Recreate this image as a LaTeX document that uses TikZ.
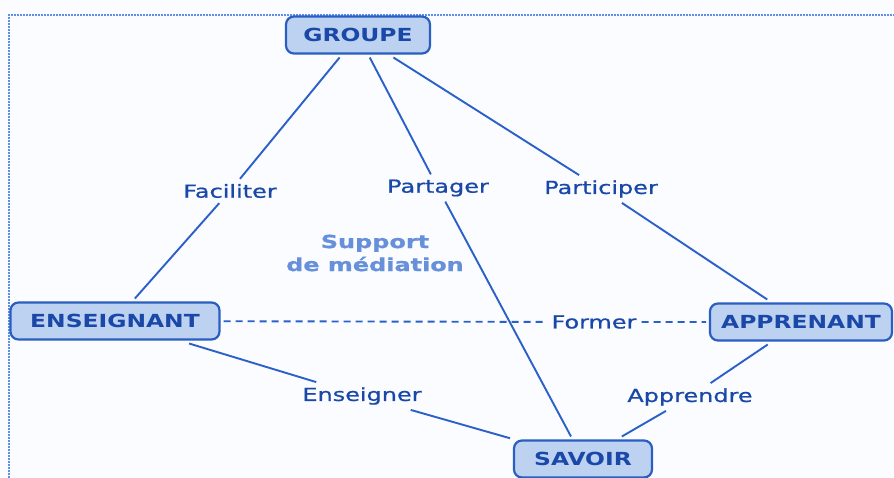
\documentclass[tikz,border=0pt]{standalone}
\usepackage{fontspec}
\newfontfamily\nodefont[FakeStretch=1.3]{DejaVu Sans}
\newfontfamily\labfont[FakeStretch=1.33,FakeBold=0.8]{DejaVu Sans}
\definecolor{bgc}{HTML}{FAFCFF}
\definecolor{framec}{HTML}{5E8EE6}
\definecolor{linec}{HTML}{2A60C8}
\definecolor{boxfill}{HTML}{BDD1F1}
\definecolor{boxdraw}{HTML}{2A5EC0}
\definecolor{txtc}{HTML}{1A48A8}
\definecolor{softc}{HTML}{6690DA}
\tikzset{
  concept/.style={draw=boxdraw, line width=2.2pt, fill=boxfill, rounded corners=8pt,
    text=txtc, font=\nodefont\fontsize{18}{20}\selectfont\bfseries,
    minimum height=37pt, inner sep=0pt, outer sep=4pt},
  link/.style={text=txtc, font=\labfont\fontsize{18}{20}\selectfont, inner sep=5pt},
  conn/.style={draw=linec, line width=1.9pt},
}
\begin{document}
\begin{tikzpicture}[x=1pt,y=-1pt]
\useasboundingbox (0,0) rectangle (894,478);
\fill[bgc] (0,0) rectangle (894,478);
\draw[framec, line width=1.6pt, dash pattern=on 1.6pt off 1.4pt] (9,478) -- (9,15) -- (894,15);

\node[concept, minimum width=144pt] (g) at (358,35) {GROUPE};
\node[concept, minimum width=209pt] (e) at (115,321) {ENSEIGNANT};
\node[concept, minimum width=182pt] (a) at (801,322) {APPRENANT};
\node[concept, minimum width=138pt] (s) at (583,459) {SAVOIR};

\node[link] (fac) at (230,191) {Faciliter};
\node[link] (par) at (438,188) {Partager};
\node[link] (pci) at (601,189) {Participer};
\node[link] (for) at (594,322) {Former};
\node[link] (ens) at (362,396) {Enseigner};
\node[link] (app) at (690,397) {Apprendre};
\node[text=softc, font=\labfont\fontsize{18}{23}\selectfont\bfseries, align=center] (sup) at (375,253) {Support\\de médiation};

\draw[conn] (g) -- (fac) -- (e);
\draw[conn] (g) -- (par) -- (s);
\draw[conn] (g) -- (pci) -- (a);
\draw[conn, dash pattern=on 7pt off 5pt] (e) -- (for) -- (a);
\draw[conn] (e) -- (ens) -- (s);
\draw[conn] (a) -- (app) -- (s);
\end{tikzpicture}
\end{document}
